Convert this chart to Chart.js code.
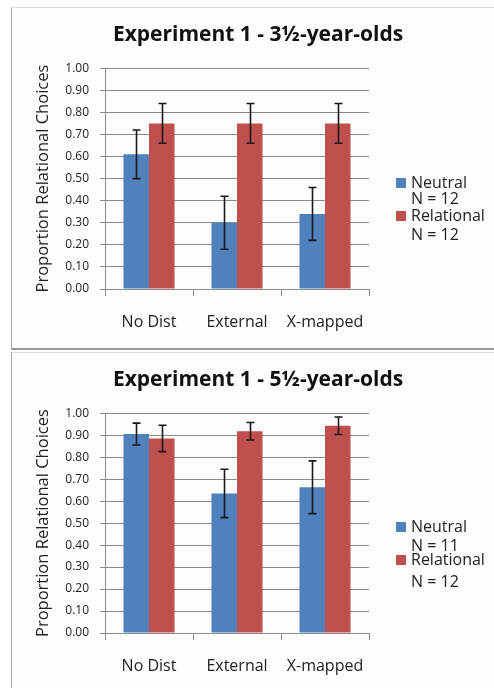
<!DOCTYPE html>
<html>
<head>
<meta charset="utf-8">
<script src="https://cdn.jsdelivr.net/npm/chart.js@4.4.1/dist/chart.umd.min.js"></script>
<style>
  html, body { margin: 0; padding: 0; background: #fff; width: 494px; height: 688px; overflow: hidden; }
  .box { position: absolute; left: 11px; width: 483px; background: #fdfdfd;
         border-left: 1px solid #a8a8a8; border-top: 1px solid #dcdcdc; }
  #box1 { top: 7px; height: 340px; border-bottom: 2px solid #999; }
  #box2 { top: 352px; height: 336px; }
  canvas { display: block; }
</style>
</head>
<body>
<div class="box" id="box1"><canvas id="chart1" width="482" height="340"></canvas></div>
<div class="box" id="box2"><canvas id="chart2" width="482" height="336"></canvas></div>
<script>
// categories and series values
const categories = ['No Dist', 'External', 'X-mapped'];

const neutral3 = [0.61, 0.30, 0.34];
const neutralErr3 = [0.11, 0.12, 0.12];
const relational3 = [0.75, 0.75, 0.75];
const relationalErr3 = [0.09, 0.09, 0.09];

const neutral5 = [0.905, 0.635, 0.663];
const neutralErr5 = [0.05, 0.11, 0.12];
const relational5 = [0.885, 0.918, 0.943];
const relationalErr5 = [0.06, 0.04, 0.04];

const legend3 = [['Neutral', 'N = 12'], ['Relational', 'N = 12']];
const legend5 = [['Neutral', 'N = 11'], ['Relational', 'N = 12']];

const titles = ['Experiment 1 - 3\u00bd-year-olds', 'Experiment 1 - 5\u00bd-year-olds'];
const yTitle = 'Proportion Relational Choices';

const BLUE = '#4f81bd';
const RED = '#c0504d';
const GRID = '#8a8a8a';
const FONT = "'Open Sans', 'DejaVu Sans', sans-serif";

// error bars drawn from each dataset's err array
const errorBars = {
    id: 'errorBars',
    afterDatasetsDraw(chart) {
        const ctx = chart.ctx;
        const y = chart.scales.y;
        ctx.save();
        ctx.strokeStyle = '#1a1a1a';
        ctx.lineWidth = 1.6;
        chart.data.datasets.forEach((ds, i) => {
            const meta = chart.getDatasetMeta(i);
            meta.data.forEach((bar, j) => {
                const v = ds.data[j], e = ds.err[j];
                const top = y.getPixelForValue(v + e);
                const bot = y.getPixelForValue(v - e);
                const x = Math.round(bar.x) + 0.5;
                ctx.beginPath();
                ctx.moveTo(x, top); ctx.lineTo(x, bot);
                ctx.moveTo(x - 4, top); ctx.lineTo(x + 4, top);
                ctx.moveTo(x - 4, bot); ctx.lineTo(x + 4, bot);
                ctx.stroke();
            });
        });
        ctx.restore();
    }
};

// legend on the right with two-line labels
const sideLegend = {
    id: 'sideLegend',
    afterDraw(chart, args, opts) {
        const ctx = chart.ctx;
        ctx.save();
        ctx.font = '16px ' + FONT;
        ctx.textBaseline = 'middle';
        chart.data.datasets.forEach((ds, i) => {
            const r0 = opts.rows[i * 2];
            ctx.fillStyle = ds.backgroundColor;
            ctx.fillRect(opts.left, r0 - 5, 10, 10);
            ctx.fillStyle = '#222';
            ds.legendText.forEach((t, k) => {
                ctx.fillText(t, opts.left + 15, opts.rows[i * 2 + k]);
            });
        });
        ctx.restore();
    }
};

function makeChart(id, title, neutral, nErr, relational, rErr, legendText, legendRows, areaBottom) {
    const canvas = document.getElementById(id);
    return new Chart(canvas, {
        type: 'bar',
        data: {
            labels: categories,
            datasets: [
                { label: 'Neutral', data: neutral, err: nErr, legendText: legendText[0],
                  backgroundColor: BLUE, barPercentage: 1, categoryPercentage: 0.58 },
                { label: 'Relational', data: relational, err: rErr, legendText: legendText[1],
                  backgroundColor: RED, barPercentage: 1, categoryPercentage: 0.58 }
            ]
        },
        plugins: [errorBars, sideLegend],
        options: {
            responsive: false,
            animation: false,
            layout: { padding: { left: 10, right: 0, top: 0, bottom: 0 } },
            plugins: {
                legend: { display: false },
                tooltip: { enabled: false },
                title: {
                    display: true,
                    text: title,
                    color: '#111',
                    font: { family: FONT, size: 21, weight: 'bold' },
                    padding: { top: 14, bottom: 21 }
                },
                sideLegend: { left: 384, rows: legendRows }
            },
            scales: {
                x: {
                    afterFit(s) { s.height = canvas.height - areaBottom; },
                    grid: { offset: true, drawOnChartArea: false, drawTicks: true, tickLength: 7, color: GRID },
                    border: { color: GRID },
                    ticks: { color: '#222', padding: 17, font: { family: FONT, size: 16 } }
                },
                y: {
                    min: 0, max: 1,
                    afterFit(s) { s.width = 83; },
                    grid: { color: GRID, tickLength: 5 },
                    border: { color: GRID },
                    ticks: {
                        stepSize: 0.1, color: '#222', padding: 11,
                        font: { family: FONT, size: 12 },
                        callback: v => v.toFixed(2)
                    },
                    title: {
                        display: true, text: yTitle, color: '#222',
                        font: { family: FONT, size: 16.5 },
                        padding: { top: 11, bottom: 0 }
                    }
                },
                // empty right-hand scale that reserves room for the legend
                side: {
                    type: 'linear', position: 'right',
                    afterFit(s) { s.width = 125; },
                    grid: { display: false },
                    border: { display: false },
                    ticks: { display: false }
                }
            }
        }
    });
}

makeChart('chart1', titles[0], neutral3, neutralErr3, relational3, relationalErr3, legend3, [175, 191, 208, 227], 281);
makeChart('chart2', titles[1], neutral5, neutralErr5, relational5, relationalErr5, legend5, [174, 193, 207, 229], 280);
</script>
</body>
</html>
